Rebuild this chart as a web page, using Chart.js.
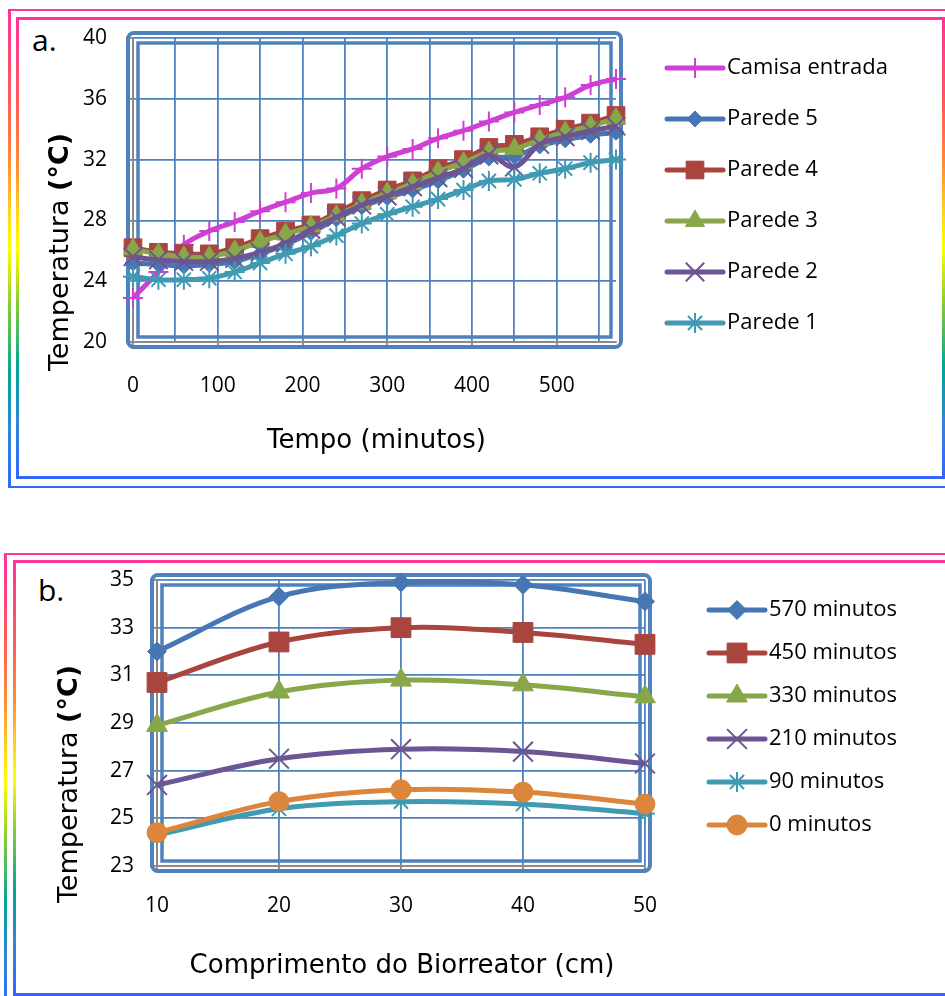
<!DOCTYPE html>
<html>
<head>
<meta charset="utf-8">
<script src="https://cdn.jsdelivr.net/npm/chart.js@4.4.0/dist/chart.umd.min.js"></script>
<style>
  body { margin: 0; width: 945px; height: 996px; position: relative; overflow: hidden; background: #fff; }
  .frame {
    position: absolute; box-sizing: border-box; border-style: solid;
    border-image: linear-gradient(to bottom, #ff3399 0%, #ff5a5a 18%, #ff8c33 32%, #ffd21e 42%, #ffff00 50%, #88cc33 62%, #00a596 76%, #2f86d8 88%, #3366ff 100%) 1;
  }
  .tag { position: absolute; font: 30px 'Open Sans'; line-height: 30px; color: #000; }
  canvas { position: absolute; left: 0; }
</style>
</head>
<body>
<div class="frame" style="left:8px;top:9px;width:960px;height:479px;border-width:2.5px 3px;"></div>
<div class="frame" style="left:16px;top:17px;width:929px;height:462px;border-width:3.5px;"></div>
<div class="frame" style="left:4px;top:553px;width:960px;height:460px;border-width:2.5px 3px;"></div>
<div class="frame" style="left:13px;top:560px;width:945px;height:436px;border-width:3.5px;"></div>
<div class="tag" style="left:32px;top:25px;">a.</div>
<div class="tag" style="left:38px;top:575px;">b.</div>
<canvas id="chartA" width="945" height="490" style="top:0"></canvas>
<canvas id="chartB" width="945" height="496" style="top:500px"></canvas>
<script>
// ---- chart a: temperature over time ----
var minutos = [0, 30, 60, 90, 120, 150, 180, 210, 240, 270, 300, 330, 360, 390, 420, 450, 480, 510, 540, 570];
var camisaEntrada = [22.9, 24.6, 26.4, 27.3, 27.9, 28.6, 29.2, 29.8, 30.1, 31.4, 32.2, 32.7, 33.4, 33.9, 34.5, 35.1, 35.6, 36.1, 36.9, 37.3];
var parede5 = [25.2, 25.1, 25.0, 25.1, 25.3, 25.8, 26.4, 27.2, 28.1, 28.9, 29.5, 30.0, 30.6, 31.3, 32.1, 32.2, 32.9, 33.3, 33.6, 33.8];
var parede4 = [26.2, 25.9, 25.8, 25.8, 26.2, 26.8, 27.3, 27.7, 28.5, 29.3, 30.0, 30.6, 31.4, 32.0, 32.8, 33.0, 33.5, 34.0, 34.4, 34.9];
var parede3 = [26.1, 25.8, 25.6, 25.6, 26.0, 26.6, 27.1, 27.6, 28.3, 29.1, 29.8, 30.4, 31.2, 31.8, 32.5, 32.7, 33.3, 33.8, 34.2, 34.7];
var parede2 = [25.6, 25.4, 25.3, 25.3, 25.5, 25.9, 26.5, 27.4, 28.2, 29.0, 29.6, 30.2, 30.8, 31.4, 32.3, 31.5, 33.0, 33.5, 33.9, 34.2];
var parede1 = [24.3, 24.1, 24.1, 24.2, 24.6, 25.2, 25.8, 26.3, 27.0, 27.8, 28.4, 28.9, 29.4, 30.0, 30.6, 30.7, 31.1, 31.4, 31.8, 32.0];
var tempoTicks = [0, 50, 100, 150, 200, 250, 300, 350, 400, 450, 500, 550];
var tempoLabels = [0, 100, 200, 300, 400, 500];
var tempTicksA = [20, 24, 28, 32, 36, 40];

// ---- chart b: temperature along the bioreactor ----
var comprimento = [10, 20, 30, 40, 50];
var min570 = [32.0, 34.3, 34.9, 34.8, 34.1];
var min450 = [30.7, 32.4, 33.0, 32.8, 32.3];
var min330 = [28.9, 30.3, 30.8, 30.6, 30.1];
var min210 = [26.4, 27.5, 27.9, 27.8, 27.3];
var min90 = [24.3, 25.4, 25.7, 25.6, 25.2];
var min0 = [24.4, 25.7, 26.2, 26.1, 25.6];
var compTicks = [10, 20, 30, 40, 50];
var tempTicksB = [23, 25, 27, 29, 31, 33, 35];

Chart.defaults.font.family = "'Open Sans'";
Chart.defaults.font.size = 21;
Chart.defaults.color = '#000';

var lineStyles = ['cross', 'crossRot', 'star'];

// build one line dataset
function serie(label, xs, ys, color, style, radius, order) {
    var thin = lineStyles.indexOf(style) >= 0;
    return {
        label: label,
        data: xs.map((x, i) => ({x: x, y: ys[i]})),
        borderColor: color,
        backgroundColor: color,
        pointBackgroundColor: color,
        pointBorderColor: color,
        borderWidth: 5,
        pointStyle: style,
        pointRadius: radius,
        pointHoverRadius: radius,
        pointBorderWidth: thin ? 2 : 1,
        tension: 0.35,
        order: order,
        clip: false
    };
}

// double blue frame round the plot area
var framePlugin = {
    id: 'frame',
    beforeDatasetsDraw(chart) {
        var a = chart.chartArea, ctx = chart.ctx;
        ctx.save();
        ctx.strokeStyle = '#4f81bd';
        ctx.lineWidth = 4;
        ctx.beginPath();
        ctx.roundRect(a.left - 5, a.top - 5, a.width + 10, a.height + 10, 6);
        ctx.stroke();
        ctx.lineWidth = 3.5;
        ctx.strokeRect(a.left + 5, a.top + 5, a.width - 10, a.height - 10);
        ctx.restore();
    }
};

// axis titles (the unit is bold) and the legend on the right
var extrasPlugin = {
    id: 'extras',
    afterDraw(chart, args, opts) {
        var a = chart.chartArea, ctx = chart.ctx;
        var midX = (a.left + a.right) / 2, midY = (a.top + a.bottom) / 2;
        ctx.save();
        ctx.fillStyle = '#000';
        ctx.textBaseline = 'middle';

        // y title, rotated
        var normal = "27px 'DejaVu Sans'", bold = "bold 27px 'DejaVu Sans'";
        ctx.font = normal;
        var w1 = ctx.measureText('Temperatura ').width;
        ctx.font = bold;
        var w2 = ctx.measureText('(°C)').width;
        ctx.translate(a.left + opts.yTitleDx, midY + opts.yTitleDy);
        ctx.rotate(-Math.PI / 2);
        ctx.textAlign = 'left';
        ctx.font = normal;
        ctx.fillText('Temperatura ', -(w1 + w2) / 2, 0);
        ctx.font = bold;
        ctx.fillText('(°C)', -(w1 + w2) / 2 + w1, 0);
        ctx.setTransform(1, 0, 0, 1, 0, 0);

        // x title
        ctx.font = "26px 'DejaVu Sans'";
        ctx.textAlign = 'center';
        ctx.fillText(opts.xTitle, midX + opts.xTitleDx, a.bottom + opts.xTitleDy);

        // legend
        ctx.textAlign = 'left';
        ctx.font = "22px 'Open Sans'";
        chart.data.datasets.forEach(function (ds, i) {
            var x0 = a.right + opts.legendX, y = a.top + opts.legendY + i * opts.legendDy;
            ctx.strokeStyle = ds.borderColor;
            ctx.fillStyle = ds.borderColor;
            ctx.lineWidth = 5;
            ctx.lineCap = 'round';
            ctx.beginPath();
            ctx.moveTo(x0, y);
            ctx.lineTo(x0 + 56, y);
            ctx.stroke();
            ctx.lineCap = 'butt';
            ctx.lineWidth = ds.pointBorderWidth;
            Chart.helpers.drawPoint(ctx, {pointStyle: ds.pointStyle, radius: ds.pointRadius, rotation: 0, borderWidth: ds.pointBorderWidth}, x0 + 28, y);
            ctx.fillStyle = '#000';
            ctx.fillText(ds.label, x0 + 60, y);
        });
        ctx.restore();
    }
};

function fixedTicks(values) {
    return function (scale) {
        scale.ticks = values.map(v => ({value: v}));
    };
}

function axes(xTicks, xMin, xMax, xLabels, yTicks, yWidth, xHeight, yPad, xPad) {
    return {
        x: {
            type: 'linear', min: xMin, max: xMax,
            afterBuildTicks: fixedTicks(xTicks),
            afterFit: s => { s.height = xHeight; },
            grid: {
                color: '#4f81bd', lineWidth: 1.8, tickLength: 7,
                tickColor: c => (xLabels.indexOf(c.tick.value) >= 0 ? '#8c8c8c' : 'rgba(0,0,0,0)'),
                tickWidth: 2
            },
            border: {color: '#8c8c8c', width: 2},
            ticks: {padding: xPad, maxRotation: 0, autoSkip: false,
                callback: v => (xLabels.indexOf(v) >= 0 ? v : '')}
        },
        y: {
            min: yTicks[0], max: yTicks[yTicks.length - 1],
            afterBuildTicks: fixedTicks(yTicks),
            afterFit: s => { s.width = yWidth; },
            grid: {color: '#4f81bd', lineWidth: 1.8, tickLength: 7, tickColor: '#8c8c8c', tickWidth: 2},
            border: {color: '#8c8c8c', width: 2},
            ticks: {padding: yPad, autoSkip: false}
        }
    };
}

var chartA = new Chart(document.getElementById('chartA'), {
    type: 'line',
    data: {
        datasets: [
            serie('Camisa entrada', minutos, camisaEntrada, '#cf3fd4', 'cross', 10, 6),
            serie('Parede 5', minutos, parede5, '#4776b4', 'rectRot', 8, 5),
            serie('Parede 4', minutos, parede4, '#a9443f', 'rect', 12.5, 4),
            serie('Parede 3', minutos, parede3, '#88a64a', 'triangle', 11, 3),
            serie('Parede 2', minutos, parede2, '#6b5592', 'crossRot', 13, 2),
            serie('Parede 1', minutos, parede1, '#3f9ab2', 'star', 10, 1)
        ]
    },
    options: {
        responsive: false,
        animation: false,
        events: [],
        layout: {padding: {left: 0, top: 38, right: 329, bottom: 0}},
        scales: axes(tempoTicks, 0, 570, tempoLabels, tempTicksA, 133, 148, 19, 24),
        plugins: {
            legend: {display: false},
            tooltip: {enabled: false},
            extras: {yTitleDx: -72, yTitleDy: 62, xTitle: 'Tempo (minutos)', xTitleDx: 2, xTitleDy: 99,
                legendX: 51, legendY: 30, legendDy: 51}
        }
    },
    plugins: [framePlugin, extrasPlugin]
});

var chartB = new Chart(document.getElementById('chartB'), {
    type: 'line',
    data: {
        datasets: [
            serie('570 minutos', comprimento, min570, '#4776b4', 'rectRot', 9.5, 6),
            serie('450 minutos', comprimento, min450, '#a9443f', 'rect', 14, 5),
            serie('330 minutos', comprimento, min330, '#88a64a', 'triangle', 12, 4),
            serie('210 minutos', comprimento, min210, '#6b5592', 'crossRot', 14, 3),
            serie('90 minutos', comprimento, min90, '#3f9ab2', 'star', 10, 2),
            serie('0 minutos', comprimento, min0, '#dc853c', 'circle', 10, 1)
        ]
    },
    options: {
        responsive: false,
        animation: false,
        events: [],
        layout: {padding: {left: 0, top: 80, right: 300, bottom: 0}},
        scales: axes(compTicks, 10, 50, compTicks, tempTicksB, 157, 130, 16, 20),
        plugins: {
            legend: {display: false},
            tooltip: {enabled: false},
            extras: {yTitleDx: -87, yTitleDy: 61, xTitle: 'Comprimento do Biorreator (cm)', xTitleDx: 1, xTitleDy: 100,
                legendX: 64, legendY: 30, legendDy: 43}
        }
    },
    plugins: [framePlugin, extrasPlugin]
});
</script>
</body>
</html>
